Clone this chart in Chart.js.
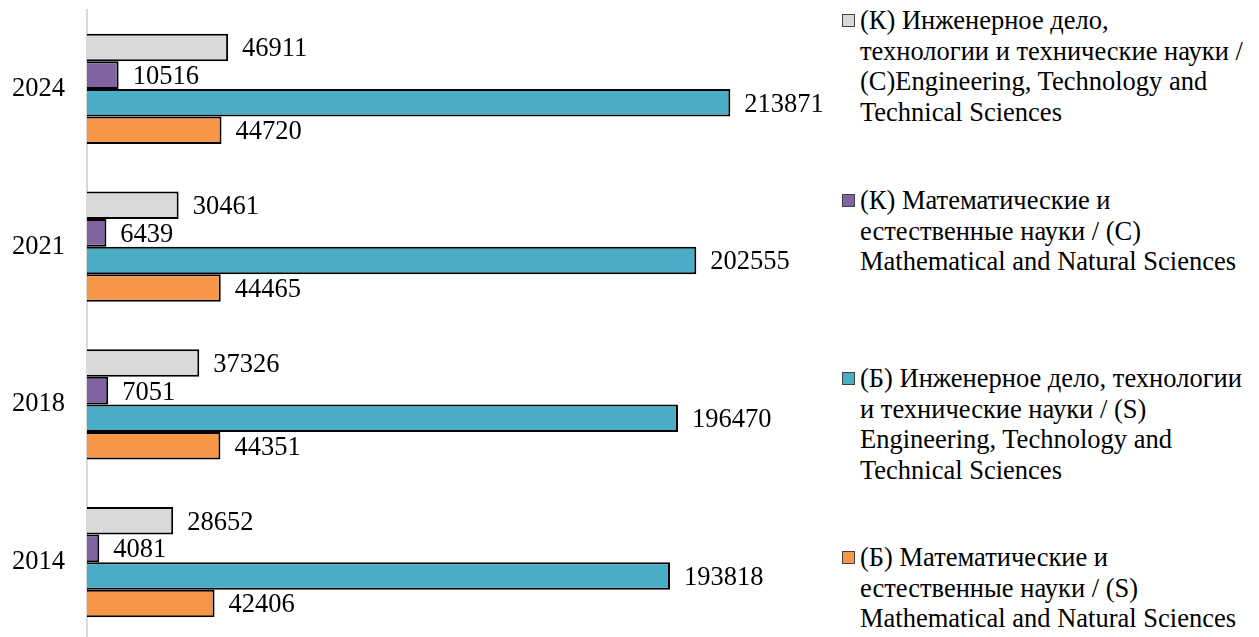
<!DOCTYPE html>
<html>
<head>
<meta charset="utf-8">
<script src="https://cdn.jsdelivr.net/npm/chart.js@4.4.0/dist/chart.umd.min.js"></script>
<style>
	html, body { margin:0; padding:0; background:#fff; overflow:hidden; }
	#myChart { position:absolute; left:0; top:0; }
	.leg { position:absolute; left:842px; font-family:"Liberation Serif", serif; font-size:26.5px; line-height:30.5px; color:#000; }
	.leg .box { position:absolute; left:0; top:9px; width:11px; height:11px; border:1px solid #404040; }
	.leg .txt { margin-left:18px; white-space:nowrap; }
</style>
</head>
<body>
<canvas id="myChart" width="839" height="641"></canvas>
<div id="legend"></div>
<script>

// ----------------------- data ----------------------------

var years = ['2024', '2021', '2018', '2014'];

var kEngineering = [46911, 30461, 37326, 28652];
var kMath = [10516, 6439, 7051, 4081];
var bEngineering = [213871, 202555, 196470, 193818];
var bMath = [44720, 44465, 44351, 42406];

var seriesNames = [
	['(К) Инженерное дело,', 'технологии и технические науки /', '(C)Engineering, Technology and', 'Technical Sciences'],
	['(К) Математические и', 'естественные науки / (C)', 'Mathematical and Natural Sciences'],
	['(Б) Инженерное дело, технологии', 'и технические науки / (S)', 'Engineering, Technology and', 'Technical Sciences'],
	['(Б) Математические и', 'естественные науки / (S)', 'Mathematical and Natural Sciences']
];

var colors = ['#D9D9D9', '#8064A2', '#4BACC6', '#F79646'];
var legendTops = [5, 185, 363, 542];

var serif = '"Liberation Serif", serif';

// ----------------------- value labels ----------------------------

var valueLabels = {
	id: 'valueLabels',
	afterDatasetsDraw: function(chart){
		var ctx = chart.ctx;
		ctx.save();
		ctx.font = '26.5px ' + serif;
		ctx.fillStyle = '#000';
		ctx.textAlign = 'left';
		ctx.textBaseline = 'middle';
		chart.data.datasets.forEach(function(ds, i){
			var meta = chart.getDatasetMeta(i);
			meta.data.forEach(function(bar, j){
				ctx.fillText(String(ds.data[j]), bar.x + 14, bar.y + 2);
			});
		});
		ctx.restore();
	}
};

// ----------------------- chart ----------------------------

var sets = [kEngineering, kMath, bEngineering, bMath];

var myChart = new Chart(document.getElementById('myChart').getContext('2d'), {
	type: 'bar',
	data: {
		labels: years,
		datasets: sets.map(function(arr, i){
			return {
				label: seriesNames[i].join(' '),
				data: arr,
				backgroundColor: colors[i],
				borderColor: '#000',
				borderWidth: 2,
				borderSkipped: 'start',
				categoryPercentage: 0.7,
				barPercentage: 1.0
			};
		})
	},
	options: {
		indexAxis: 'y',
		responsive: false,
		animation: false,
		layout: { padding: { top: 10, left: 0, right: 0, bottom: 0 } },
		plugins: {
			legend: { display: false },
			tooltip: { enabled: false }
		},
		scales: {
			x: {
				min: 0,
				max: 250000,
				display: false
			},
			y: {
				grid: { display: false, drawTicks: false },
				border: { display: true, color: '#D9D9D9', width: 2 },
				ticks: {
					color: '#000',
					padding: 22,
					font: { family: serif, size: 26.5 }
				},
				afterFit: function(axis){
					axis.width = 87;
					axis.paddingTop = 0;
					axis.paddingBottom = 0;
				}
			}
		}
	},
	plugins: [valueLabels]
});

// ----------------------- legend ----------------------------

var legendEl = document.getElementById('legend');
seriesNames.forEach(function(lines, i){
	var item = document.createElement('div');
	item.className = 'leg';
	item.style.top = legendTops[i] + 'px';
	var box = document.createElement('div');
	box.className = 'box';
	box.style.background = colors[i];
	item.appendChild(box);
	var txt = document.createElement('div');
	txt.className = 'txt';
	txt.innerHTML = lines.join('<br>');
	item.appendChild(txt);
	legendEl.appendChild(item);
});

</script>
</body>
</html>
